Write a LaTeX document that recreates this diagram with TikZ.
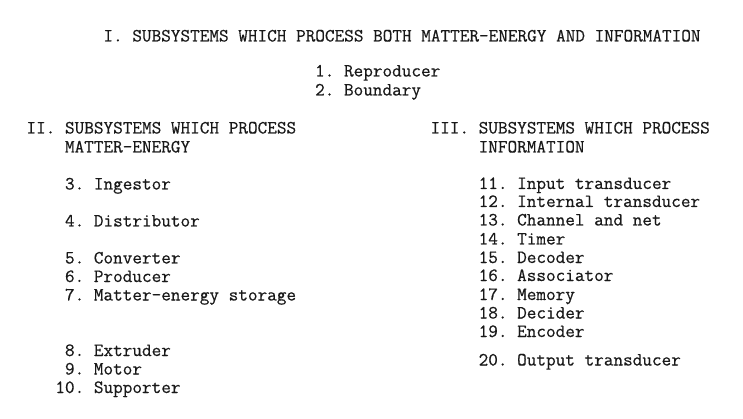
\documentclass[tikz,border=0pt]{standalone}
\usepackage{fontspec}
\newfontfamily\twfont[FakeBold=0.5]{lmmono12-regular.otf}
\begin{document}
\begin{tikzpicture}[x=1pt,y=-1pt,
  txt/.style={anchor=base west,inner sep=0pt,outer sep=0pt,text=black!90,
    font=\twfont\fontsize{18.7}{18.7}\selectfont\frenchspacing}]
\useasboundingbox (0,0) rectangle (743,419);
\def\cw{9.62}
\def\xo{26.5}
% heading I
\node[txt] (tI) at ({\xo+8*\cw},41.5) {I. SUBSYSTEMS WHICH PROCESS BOTH MATTER-ENERGY AND INFORMATION};
\node[txt] (i1) at ({\xo+30*\cw},76.5) {1. Reproducer};
\node[txt] (i2) at ({\xo+30*\cw},95.5) {2. Boundary};
% heading II
\node[txt] (tIIa) at ({\xo+0*\cw},133.5) {II. SUBSYSTEMS WHICH PROCESS};
\node[txt] (tIIb) at ({\xo+4*\cw},152.5) {MATTER-ENERGY};
\node[txt] (i3) at ({\xo+4*\cw},189.5) {3. Ingestor};
\node[txt] (i4) at ({\xo+4*\cw},226.5) {4. Distributor};
\node[txt] (i5) at ({\xo+4*\cw},263.5) {5. Converter};
\node[txt] (i6) at ({\xo+4*\cw},282) {6. Producer};
\node[txt] (i7) at ({\xo+4*\cw},300.5) {7. Matter-energy storage};
\node[txt] (i8) at ({\xo+4*\cw},356) {8. Extruder};
\node[txt] (i9) at ({\xo+4*\cw},374.5) {9. Motor};
\node[txt] (i10) at ({\xo+3*\cw},393) {10. Supporter};
% heading III
\node[txt] (tIIIa) at ({\xo+42*\cw},133.5) {III. SUBSYSTEMS WHICH PROCESS};
\node[txt] (tIIIb) at ({\xo+47*\cw},152.5) {INFORMATION};
\node[txt] (i11) at ({\xo+47*\cw},189) {11. Input transducer};
\node[txt] (i12) at ({\xo+47*\cw},207) {12. Internal transducer};
\node[txt] (i13) at ({\xo+47*\cw},225.5) {13. Channel and net};
\node[txt] (i14) at ({\xo+47*\cw},244.5) {14. Timer};
\node[txt] (i15) at ({\xo+47*\cw},263) {15. Decoder};
\node[txt] (i16) at ({\xo+47*\cw},281) {16. Associator};
\node[txt] (i17) at ({\xo+47*\cw},300) {17. Memory};
\node[txt] (i18) at ({\xo+47*\cw},318.5) {18. Decider};
\node[txt] (i19) at ({\xo+47*\cw},337) {19. Encoder};
\node[txt] (i20) at ({\xo+47*\cw},365.5) {20. Output transducer};
\end{tikzpicture}
\end{document}
